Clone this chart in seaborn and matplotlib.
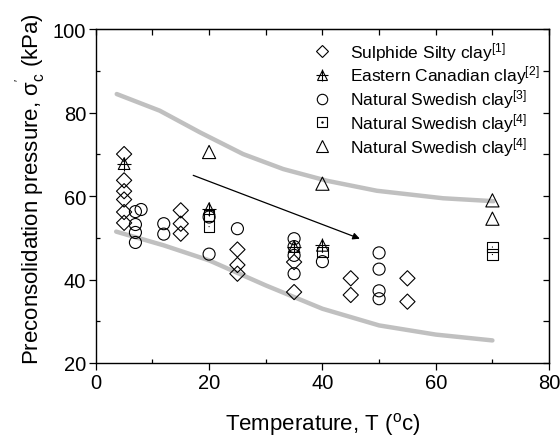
import matplotlib
matplotlib.use("Agg")
import matplotlib.pyplot as plt
from matplotlib.lines import Line2D
from matplotlib.legend_handler import HandlerTuple
from matplotlib.ticker import MultipleLocator
import seaborn as sns

sns.set_style("ticks")
plt.rcParams["font.family"] = ["Liberation Sans", "DejaVu Sans"]
plt.rcParams["mathtext.fontset"] = "custom"
plt.rcParams["mathtext.rm"] = "Liberation Sans"
plt.rcParams["mathtext.it"] = "Liberation Sans:italic"
plt.rcParams["mathtext.bf"] = "Liberation Sans:bold"
for key in ["text.color", "axes.labelcolor", "xtick.color", "ytick.color",
            "axes.edgecolor"]:
    plt.rcParams[key] = "black"

# Sulphide silty clay
sulphide_T = [5, 5, 5, 5, 5, 5, 15, 15, 15, 25, 25, 25, 35, 35, 45, 45, 55, 55]
sulphide_p = [70.1, 63.8, 61.2, 59.2, 56.2, 53.6, 56.6, 53.4, 51.0,
              47.2, 43.5, 41.4, 44.2, 37.0, 40.3, 36.3, 40.3, 34.7]

# Eastern Canadian clay
canadian_T = [5, 20, 35, 40]
canadian_p = [67.8, 57.0, 47.9, 48.2]

# Natural Swedish clay [3]
swedish3_T = [7, 8, 7, 7, 7, 12, 12, 20, 20, 25, 35, 35, 35, 35, 40, 50, 50, 50, 50]
swedish3_p = [56.3, 56.8, 53.2, 51.3, 48.9, 53.4, 50.9, 55.0, 46.1, 52.2,
              49.8, 47.9, 45.8, 41.4, 44.3, 46.4, 42.5, 37.3, 35.4]

# Natural Swedish clay [4], squares
swedish4_sq_T = [20, 20, 40, 70, 70]
swedish4_sq_p = [55.4, 52.7, 46.6, 47.8, 46.0]

# Natural Swedish clay [4], triangles
swedish4_tri_T = [20, 40, 70, 70]
swedish4_tri_p = [70.6, 63.0, 59.0, 54.6]

# Upper and lower bounds of the data band
upper_T = [3.7, 11.3, 18.4, 26.0, 33.1, 40.8, 49.6, 61.3, 70.2]
upper_p = [84.5, 80.5, 75.3, 70.1, 66.5, 63.7, 61.3, 59.5, 58.8]
lower_T = [3.6, 12.0, 20.0, 30.0, 40.0, 50.0, 60.0, 70.0]
lower_p = [51.5, 48.2, 44.6, 38.6, 33.0, 29.0, 26.8, 25.4]

# Trend arrow (start and end)
arrow_T = [17.2, 46.6]
arrow_p = [65.0, 49.8]

labels = [
    r"Sulphide Silty clay$^{\mathrm{[1]}}$",
    r"Eastern Canadian clay$^{\mathrm{[2]}}$",
    r"Natural Swedish clay$^{\mathrm{[3]}}$",
    r"Natural Swedish clay$^{\mathrm{[4]}}$",
    r"Natural Swedish clay$^{\mathrm{[4]}}$",
]

fig = plt.figure(figsize=(5.6, 4.39), dpi=100)
ax = fig.add_axes([0.171, 0.171, 0.8095, 0.7597])

band = "#c0c0c0"
sns.lineplot(x=upper_T, y=upper_p, ax=ax, color=band, lw=3.2, sort=False,
             estimator=None, zorder=1)
sns.lineplot(x=lower_T, y=lower_p, ax=ax, color=band, lw=3.2, sort=False,
             estimator=None, zorder=1)

mk = dict(color="none", edgecolor="black", linewidth=0.8, zorder=3)
sns.scatterplot(x=sulphide_T, y=sulphide_p, ax=ax, marker="D", s=60, **mk)
sns.scatterplot(x=swedish3_T, y=swedish3_p, ax=ax, marker="o", s=75, **mk)
sns.scatterplot(x=swedish4_sq_T, y=swedish4_sq_p, ax=ax, marker="s", s=55, **mk)
sns.scatterplot(x=swedish4_sq_T, y=swedish4_sq_p, ax=ax, marker=".", s=3,
                color="black", edgecolor="none", zorder=4)
sns.scatterplot(x=swedish4_tri_T, y=swedish4_tri_p, ax=ax, marker="^", s=90, **mk)
sns.scatterplot(x=canadian_T, y=canadian_p, ax=ax, marker="^", s=70, **mk)
sns.scatterplot(x=canadian_T, y=canadian_p, ax=ax, marker="+", s=110,
                color="black", linewidth=0.8, zorder=4)

ax.annotate("", xy=(arrow_T[1], arrow_p[1]), xytext=(arrow_T[0], arrow_p[0]),
            arrowprops=dict(arrowstyle="-|>", color="black", lw=0.9,
                            mutation_scale=10, shrinkA=0, shrinkB=0))

ax.set_xlim(0, 80)
ax.set_ylim(20, 100)
ax.xaxis.set_major_locator(MultipleLocator(20))
ax.xaxis.set_minor_locator(MultipleLocator(10))
ax.yaxis.set_major_locator(MultipleLocator(20))
ax.yaxis.set_minor_locator(MultipleLocator(10))
ax.tick_params(which="major", direction="out", length=5, width=0.9,
               labelsize=14.5, pad=2)
ax.tick_params(which="minor", direction="in", length=3, width=0.9)
for s in ax.spines.values():
    s.set_linewidth(1.0)
    s.set_visible(True)

# Inward ticks on the top and right edges
top = ax.secondary_xaxis("top")
top.xaxis.set_major_locator(MultipleLocator(10))
top.tick_params(direction="in", length=4, width=0.9, labeltop=False)
right = ax.secondary_yaxis("right")
right.yaxis.set_major_locator(MultipleLocator(10))
right.tick_params(direction="in", length=4, width=0.9, labelright=False)

ax.set_xlabel(r"Temperature, T ($^{\mathrm{o}}$c)", fontsize=16, labelpad=13)
ax.set_ylabel(r"Preconsolidation pressure, σ$_{\mathrm{c}}^{'}$ (kPa)",
              fontsize=16, labelpad=4)
ax.yaxis.label.set_y(0.525)

lk = dict(linestyle="none", markerfacecolor="none", markeredgecolor="black",
          markeredgewidth=0.8)
h_sul = Line2D([], [], marker="D", markersize=6.5, **lk)
h_can = (Line2D([], [], marker="^", markersize=7, **lk),
         Line2D([], [], marker="+", markersize=9, color="black",
                linestyle="none", markeredgewidth=0.8))
h_s3 = Line2D([], [], marker="o", markersize=7.5, **lk)
h_s4 = (Line2D([], [], marker="s", markersize=6.5, **lk),
        Line2D([], [], marker=".", markersize=1.5, color="black", linestyle="none"))
h_t4 = Line2D([], [], marker="^", markersize=8, **lk)
ax.legend([h_sul, h_can, h_s3, h_s4, h_t4], labels,
          handler_map={tuple: HandlerTuple(ndivide=1)},
          loc="upper left", bbox_to_anchor=(0.481, 0.969), frameon=False,
          fontsize=12.5, handlelength=1.0, handletextpad=1.1,
          labelspacing=0.05, borderpad=0, borderaxespad=0)

fig.savefig("out.png", dpi=100)
